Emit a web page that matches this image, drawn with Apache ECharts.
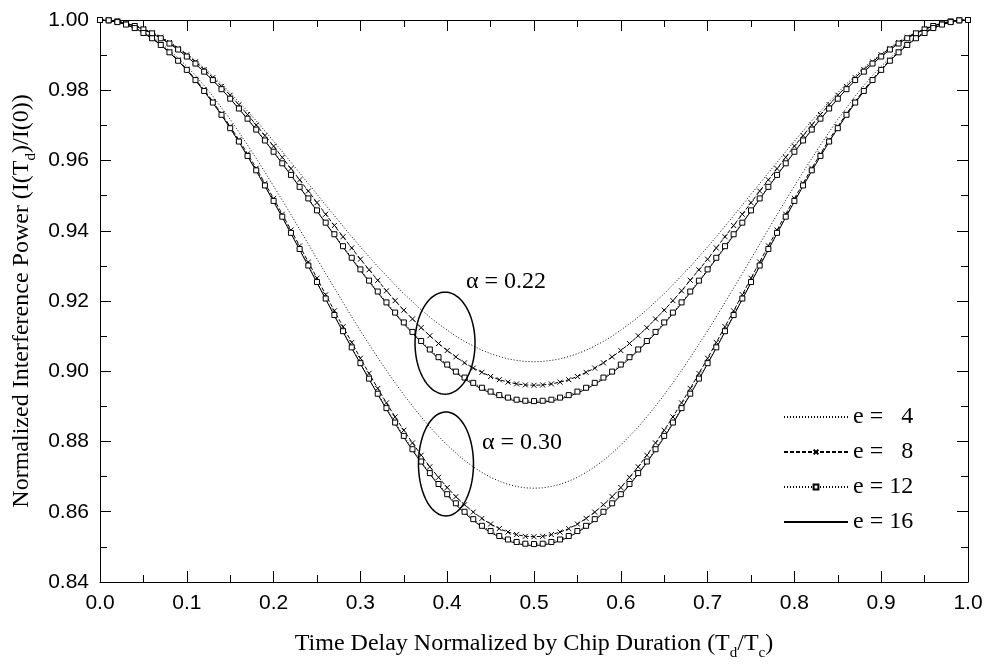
<!DOCTYPE html>
<html><head><meta charset="utf-8">
<script src="https://cdn.jsdelivr.net/npm/echarts@6/dist/echarts.min.js"></script>
<style>html,body{margin:0;padding:0;background:#fff}#c{width:987px;height:666px}</style>
</head><body><div id="c"></div>
<script>
// x sampling grid (Td/Tc)
const td = [0,0.01,0.02,0.03,0.04,0.05,0.06,0.07,0.08,0.09,0.1,0.11,0.12,0.13,0.14,0.15,0.16,0.17,0.18,0.19,0.2,0.21,0.22,0.23,0.24,0.25,0.26,0.27,0.28,0.29,0.3,0.31,0.32,0.33,0.34,0.35,0.36,0.37,0.38,0.39,0.4,0.41,0.42,0.43,0.44,0.45,0.46,0.47,0.48,0.49,0.5,0.51,0.52,0.53,0.54,0.55,0.56,0.57,0.58,0.59,0.6,0.61,0.62,0.63,0.64,0.65,0.66,0.67,0.68,0.69,0.7,0.71,0.72,0.73,0.74,0.75,0.76,0.77,0.78,0.79,0.8,0.81,0.82,0.83,0.84,0.85,0.86,0.87,0.88,0.89,0.9,0.91,0.92,0.93,0.94,0.95,0.96,0.97,0.98,0.99,1];

// alpha = 0.22
const a22_e4 = [1.0000,0.9999,0.9996,0.9991,0.9984,0.9975,0.9965,0.9952,0.9938,0.9921,0.9904,0.9884,0.9864,0.9841,0.9818,0.9793,0.9767,0.9740,0.9713,0.9684,0.9655,0.9625,0.9595,0.9565,0.9534,0.9504,0.9473,0.9443,0.9413,0.9383,0.9354,0.9326,0.9298,0.9272,0.9246,0.9221,0.9198,0.9175,0.9154,0.9135,0.9117,0.9100,0.9085,0.9072,0.9060,0.9050,0.9042,0.9035,0.9031,0.9028,0.9027,
0.9028,0.9031,0.9035,0.9042,0.9050,0.9060,0.9072,0.9085,0.9100,0.9117,0.9135,0.9154,0.9175,0.9198,0.9221,0.9246,0.9272,0.9298,0.9326,0.9354,0.9383,0.9413,0.9443,0.9473,0.9504,0.9534,0.9565,0.9595,0.9625,0.9655,0.9684,0.9713,0.9740,0.9767,0.9793,0.9818,0.9841,0.9864,0.9884,0.9904,0.9921,0.9938,0.9952,0.9965,0.9975,0.9984,0.9991,0.9996,0.9999,1.0000];
const a22_e8 = [1.0000,0.9999,0.9996,0.9991,0.9984,0.9975,0.9963,0.9951,0.9936,0.9919,0.9901,0.9881,0.9859,0.9836,0.9811,0.9786,0.9759,0.9731,0.9701,0.9671,0.9641,0.9609,0.9577,0.9545,0.9513,0.9480,0.9447,0.9415,0.9383,0.9351,0.9319,0.9289,0.9259,0.9229,0.9201,0.9174,0.9149,0.9124,0.9101,0.9079,0.9059,0.9041,0.9024,0.9009,0.8997,0.8985,0.8976,0.8969,0.8964,0.8961,0.8960,
0.8961,0.8964,0.8969,0.8976,0.8985,0.8997,0.9009,0.9024,0.9041,0.9059,0.9079,0.9101,0.9124,0.9149,0.9174,0.9201,0.9229,0.9259,0.9289,0.9319,0.9351,0.9383,0.9415,0.9447,0.9480,0.9513,0.9545,0.9577,0.9609,0.9641,0.9671,0.9701,0.9731,0.9759,0.9786,0.9811,0.9836,0.9859,0.9881,0.9901,0.9919,0.9936,0.9951,0.9963,0.9975,0.9984,0.9991,0.9996,0.9999,1.0000];
const a22_e12 = [1.0000,0.9999,0.9996,0.9990,0.9983,0.9973,0.9962,0.9948,0.9933,0.9916,0.9896,0.9876,0.9853,0.9829,0.9803,0.9776,0.9748,0.9719,0.9688,0.9657,0.9625,0.9592,0.9559,0.9525,0.9492,0.9458,0.9423,0.9390,0.9356,0.9323,0.9290,0.9258,0.9227,0.9196,0.9167,0.9139,0.9112,0.9086,0.9062,0.9040,0.9019,0.8999,0.8982,0.8967,0.8953,0.8942,0.8932,0.8925,0.8919,0.8916,0.8915,
0.8916,0.8919,0.8925,0.8932,0.8942,0.8953,0.8967,0.8982,0.8999,0.9019,0.9040,0.9062,0.9086,0.9112,0.9139,0.9167,0.9196,0.9227,0.9258,0.9290,0.9323,0.9356,0.9390,0.9423,0.9458,0.9492,0.9525,0.9559,0.9592,0.9625,0.9657,0.9688,0.9719,0.9748,0.9776,0.9803,0.9829,0.9853,0.9876,0.9896,0.9916,0.9933,0.9948,0.9962,0.9973,0.9983,0.9990,0.9996,0.9999,1.0000];
const a22_e16 = [1.0000,0.9999,0.9996,0.9990,0.9983,0.9973,0.9962,0.9948,0.9933,0.9915,0.9896,0.9875,0.9852,0.9828,0.9803,0.9776,0.9747,0.9718,0.9687,0.9656,0.9624,0.9591,0.9558,0.9524,0.9490,0.9456,0.9421,0.9387,0.9353,0.9320,0.9287,0.9255,0.9224,0.9193,0.9164,0.9135,0.9108,0.9083,0.9059,0.9036,0.9015,0.8996,0.8978,0.8963,0.8949,0.8938,0.8928,0.8921,0.8915,0.8912,0.8911,
0.8912,0.8915,0.8921,0.8928,0.8938,0.8949,0.8963,0.8978,0.8996,0.9015,0.9036,0.9059,0.9083,0.9108,0.9135,0.9164,0.9193,0.9224,0.9255,0.9287,0.9320,0.9353,0.9387,0.9421,0.9456,0.9490,0.9524,0.9558,0.9591,0.9624,0.9656,0.9687,0.9718,0.9747,0.9776,0.9803,0.9828,0.9852,0.9875,0.9896,0.9915,0.9933,0.9948,0.9962,0.9973,0.9983,0.9990,0.9996,0.9999,1.0000];

// alpha = 0.30
const a30_e4 = [1.0000,0.9999,0.9995,0.9988,0.9978,0.9966,0.9951,0.9934,0.9914,0.9892,0.9868,0.9842,0.9813,0.9783,0.9750,0.9717,0.9681,0.9644,0.9606,0.9567,0.9527,0.9487,0.9446,0.9404,0.9362,0.9320,0.9278,0.9237,0.9196,0.9155,0.9115,0.9077,0.9039,0.9002,0.8967,0.8933,0.8901,0.8870,0.8841,0.8815,0.8790,0.8767,0.8746,0.8728,0.8712,0.8698,0.8687,0.8678,0.8672,0.8668,0.8667,
0.8668,0.8672,0.8678,0.8687,0.8698,0.8712,0.8728,0.8746,0.8767,0.8790,0.8815,0.8841,0.8870,0.8901,0.8933,0.8967,0.9002,0.9039,0.9077,0.9115,0.9155,0.9196,0.9237,0.9278,0.9320,0.9362,0.9404,0.9446,0.9487,0.9527,0.9567,0.9606,0.9644,0.9681,0.9717,0.9750,0.9783,0.9813,0.9842,0.9868,0.9892,0.9914,0.9934,0.9951,0.9966,0.9978,0.9988,0.9995,0.9999,1.0000];
const a30_e8 = [1.0000,0.9999,0.9994,0.9987,0.9977,0.9964,0.9948,0.9930,0.9909,0.9886,0.9860,0.9831,0.9801,0.9768,0.9733,0.9697,0.9659,0.9619,0.9578,0.9535,0.9492,0.9447,0.9402,0.9357,0.9311,0.9265,0.9218,0.9172,0.9127,0.9082,0.9037,0.8994,0.8951,0.8910,0.8870,0.8832,0.8796,0.8761,0.8728,0.8698,0.8669,0.8643,0.8620,0.8599,0.8581,0.8565,0.8552,0.8542,0.8535,0.8530,0.8529,
0.8530,0.8535,0.8542,0.8552,0.8565,0.8581,0.8599,0.8620,0.8643,0.8669,0.8698,0.8728,0.8761,0.8796,0.8832,0.8870,0.8910,0.8951,0.8994,0.9037,0.9082,0.9127,0.9172,0.9218,0.9265,0.9311,0.9357,0.9402,0.9447,0.9492,0.9535,0.9578,0.9619,0.9659,0.9697,0.9733,0.9768,0.9801,0.9831,0.9860,0.9886,0.9909,0.9930,0.9948,0.9964,0.9977,0.9987,0.9994,0.9999,1.0000];
const a30_e12 = [1.0000,0.9999,0.9994,0.9987,0.9977,0.9963,0.9948,0.9929,0.9908,0.9884,0.9858,0.9829,0.9798,0.9765,0.9730,0.9692,0.9654,0.9613,0.9572,0.9529,0.9485,0.9440,0.9394,0.9348,0.9301,0.9254,0.9207,0.9160,0.9114,0.9068,0.9023,0.8979,0.8936,0.8895,0.8854,0.8816,0.8778,0.8743,0.8710,0.8679,0.8650,0.8624,0.8600,0.8579,0.8560,0.8545,0.8531,0.8521,0.8514,0.8509,0.8508,
0.8509,0.8514,0.8521,0.8531,0.8545,0.8560,0.8579,0.8600,0.8624,0.8650,0.8679,0.8710,0.8743,0.8778,0.8816,0.8854,0.8895,0.8936,0.8979,0.9023,0.9068,0.9114,0.9160,0.9207,0.9254,0.9301,0.9348,0.9394,0.9440,0.9485,0.9529,0.9572,0.9613,0.9654,0.9692,0.9730,0.9765,0.9798,0.9829,0.9858,0.9884,0.9908,0.9929,0.9948,0.9963,0.9977,0.9987,0.9994,0.9999,1.0000];
const a30_e16 = [1.0000,0.9999,0.9994,0.9987,0.9977,0.9963,0.9947,0.9929,0.9907,0.9884,0.9857,0.9828,0.9797,0.9764,0.9729,0.9692,0.9653,0.9612,0.9570,0.9527,0.9483,0.9438,0.9392,0.9346,0.9299,0.9252,0.9205,0.9158,0.9112,0.9066,0.9021,0.8977,0.8934,0.8892,0.8851,0.8812,0.8775,0.8740,0.8707,0.8676,0.8647,0.8620,0.8597,0.8575,0.8557,0.8541,0.8528,0.8517,0.8510,0.8505,0.8504,
0.8505,0.8510,0.8517,0.8528,0.8541,0.8557,0.8575,0.8597,0.8620,0.8647,0.8676,0.8707,0.8740,0.8775,0.8812,0.8851,0.8892,0.8934,0.8977,0.9021,0.9066,0.9112,0.9158,0.9205,0.9252,0.9299,0.9346,0.9392,0.9438,0.9483,0.9527,0.9570,0.9612,0.9653,0.9692,0.9729,0.9764,0.9797,0.9828,0.9857,0.9884,0.9907,0.9929,0.9947,0.9963,0.9977,0.9987,0.9994,0.9999,1.0000];

const legendNames = ['e =   4', 'e =   8', 'e = 12', 'e = 16'];
const alphaLabels = ['α = 0.22', 'α = 0.30'];
// annotation anchors in data coords [Td/Tc, value]
const alphaLabelPos = [[0.4677, 0.9254], [0.4862, 0.8796]];
const ellipseCenters = [[0.3975, 0.9080], [0.3986, 0.8736]];

const SANS = '"Liberation Sans", Arial, sans-serif';
const SERIF = '"Liberation Serif", "Times New Roman", serif';

function pairs(ys) { return td.map((x, i) => [x, ys[i]]); }

const styles = {
  e4:  { symbol: 'circle', showSymbol: false, itemStyle: { color: 'rgba(0,0,0,0)' }, lineStyle: { color: '#000', width: 1, type: [1, 2] } },
  e8:  { symbol: 'path://M0,0L10,10M10,0L0,10', symbolSize: 5, showSymbol: true, itemStyle: { color: '#000', borderColor: '#000', borderWidth: 1 }, lineStyle: { color: '#000', width: 1, type: [4, 2] } },
  e12: { symbol: 'rect', symbolSize: 5, showSymbol: true, itemStyle: { color: '#fff', borderColor: '#000', borderWidth: 1 }, lineStyle: { color: '#000', width: 1, type: [1, 2] } },
  e16: { symbol: 'circle', showSymbol: false, itemStyle: { color: 'rgba(0,0,0,0)' }, lineStyle: { color: '#000', width: 1, type: 'solid' } }
};

function mk(name, ys, st) {
  return Object.assign({ type: 'line', name: name, data: pairs(ys), animation: false, z: 3, emphasis: { disabled: true } }, JSON.parse(JSON.stringify(st)));
}

const series = [
  mk(legendNames[0], a22_e4, styles.e4),
  mk(legendNames[1], a22_e8, styles.e8),
  mk(legendNames[2], a22_e12, styles.e12),
  mk(legendNames[3], a22_e16, styles.e16),
  mk(legendNames[0], a30_e4, styles.e4),
  mk(legendNames[1], a30_e8, styles.e8),
  mk(legendNames[2], a30_e12, styles.e12),
  mk(legendNames[3], a30_e16, styles.e16)
];

const tickCommon = {
  axisLine: { show: true, onZero: false, lineStyle: { color: '#000', width: 1 } },
  axisTick: { show: true, inside: true, length: 11, lineStyle: { color: '#000', width: 1 } },
  minorTick: { show: true, splitNumber: 2, length: 7, lineStyle: { color: '#000', width: 1 } },
  splitLine: { show: false },
  minorSplitLine: { show: false }
};

const chart = echarts.init(document.getElementById('c'), null, { renderer: 'canvas' });
const option = {
  backgroundColor: '#fff',
  animation: false,
  grid: { left: 100, right: 19, top: 20, bottom: 84, containLabel: false },
  xAxis: [
    Object.assign({ type: 'value', min: 0, max: 1, interval: 0.1, position: 'bottom',
      axisLabel: { formatter: v => v.toFixed(1), fontSize: 21, fontFamily: SANS, color: '#000', margin: 11 } }, tickCommon),
    Object.assign({ type: 'value', min: 0, max: 1, interval: 0.1, position: 'top',
      axisLabel: { show: false } }, tickCommon)
  ],
  yAxis: [
    Object.assign({ type: 'value', min: 0.84, max: 1.0, interval: 0.02, position: 'left',
      axisLabel: { formatter: v => v.toFixed(2), fontSize: 21, fontFamily: SANS, color: '#000', margin: 11 } }, tickCommon),
    Object.assign({ type: 'value', min: 0.84, max: 1.0, interval: 0.02, position: 'right',
      axisLabel: { show: false } }, tickCommon)
  ],
  legend: {
    orient: 'vertical', left: 778, top: 400, itemWidth: 64, itemHeight: 6, itemGap: 11,
    data: legendNames, selectedMode: false,
    textStyle: { fontFamily: SERIF, fontSize: 24, color: '#000', lineHeight: 24 }
  },
  series: series
};
chart.setOption(option);

const graphics = [];
const radii = [[30, 51], [27.5, 52]];
ellipseCenters.forEach((c, i) => {
  const p = chart.convertToPixel({ xAxisIndex: 0, yAxisIndex: 0 }, c);
  const pts = [];
  for (let k = 0; k < 96; k++) {
    const t = k / 96 * Math.PI * 2;
    pts.push([p[0] + radii[i][0] * Math.cos(t), p[1] + radii[i][1] * Math.sin(t)]);
  }
  graphics.push({ type: 'polygon', shape: { points: pts }, style: { fill: 'none', stroke: '#000', lineWidth: 1.5 }, silent: true, z: 10 });
});
alphaLabelPos.forEach((c, i) => {
  const p = chart.convertToPixel({ xAxisIndex: 0, yAxisIndex: 0 }, c);
  graphics.push({ type: 'text', x: p[0], y: p[1], silent: true, z: 10,
    style: { text: alphaLabels[i], fontSize: 24, fontFamily: SERIF, fill: '#000', textAlign: 'center', textVerticalAlign: 'middle', verticalAlign: 'middle' } });
});
const rich = { s: { fontSize: 15, fontFamily: SERIF, fill: '#000', padding: [18, 0, 0, 0] } };
graphics.push({ type: 'text', x: 534, y: 644, silent: true,
  style: { text: 'Time Delay Normalized by Chip Duration (T{s|d}/T{s|c})', fontSize: 24, fontFamily: SERIF, fill: '#000', textAlign: 'center', textVerticalAlign: 'middle', verticalAlign: 'middle', rich: rich } });
graphics.push({ type: 'text', x: 22, y: 301, rotation: Math.PI / 2, silent: true,
  style: { text: 'Normalized Interference Power (I(T{s|d})/I(0))', fontSize: 24, fontFamily: SERIF, fill: '#000', textAlign: 'center', textVerticalAlign: 'middle', verticalAlign: 'middle', rich: rich } });
chart.setOption({ graphic: { elements: graphics } });
</script>
</body></html>
